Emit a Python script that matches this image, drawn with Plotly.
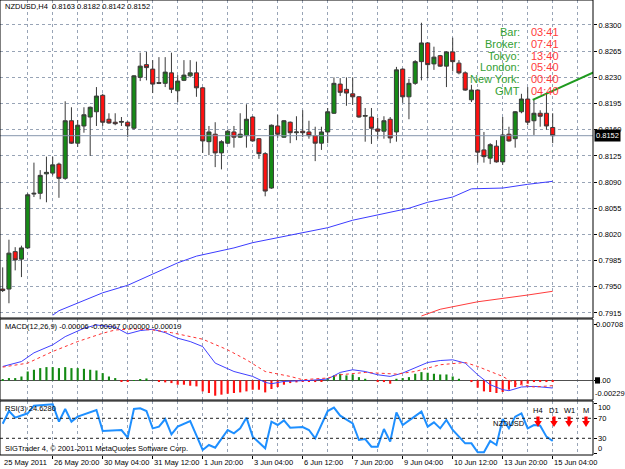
import plotly.graph_objects as go

# ---------------- data ----------------
bars = list(range(89))
open_ = [0.7947, 0.7947, 0.7997, 0.7987, 0.8002, 0.8074, 0.8075, 0.8101, 0.8102, 0.8114,
         0.8095, 0.8172, 0.8142, 0.8165, 0.8177, 0.8184, 0.8206, 0.8174, 0.8170, 0.8170,
         0.8170, 0.8162, 0.8230, 0.8247, 0.8241, 0.8223, 0.8222, 0.8236, 0.8212, 0.8226,
         0.8232, 0.8236, 0.8216, 0.8144, 0.8154, 0.8129, 0.8142, 0.8157, 0.8150, 0.8152,
         0.8177, 0.8148, 0.8128, 0.8082, 0.8165, 0.8150, 0.8170, 0.8156, 0.8158, 0.8157,
         0.8152, 0.8142, 0.8157, 0.8182, 0.8221, 0.8214, 0.8208, 0.8204, 0.8178, 0.8177,
         0.8161, 0.8158, 0.8174, 0.8157, 0.8241, 0.8204, 0.8222, 0.8251, 0.8276, 0.8248,
         0.8259, 0.8245, 0.8264, 0.8249, 0.8236, 0.8200, 0.8213, 0.8133, 0.8122, 0.8138,
         0.8117, 0.8154, 0.8148, 0.8184, 0.8201, 0.8172, 0.8182, 0.8182, 0.8163]
high = [0.7976, 0.8013, 0.8003, 0.8005, 0.8075, 0.8116, 0.8106, 0.8124, 0.8124, 0.8116,
        0.8198, 0.8190, 0.8173, 0.8190, 0.8191, 0.8217, 0.8208, 0.8182, 0.8182, 0.8177,
        0.8171, 0.8233, 0.8263, 0.8264, 0.8253, 0.8257, 0.8257, 0.8263, 0.8233, 0.8253,
        0.8253, 0.8251, 0.8217, 0.8165, 0.8170, 0.8146, 0.8160, 0.8165, 0.8182, 0.8194,
        0.8178, 0.8149, 0.8130, 0.8167, 0.8180, 0.8173, 0.8171, 0.8178, 0.8186, 0.8172,
        0.8164, 0.8164, 0.8189, 0.8230, 0.8229, 0.8230, 0.8230, 0.8205, 0.8189, 0.8189,
        0.8176, 0.8178, 0.8177, 0.8244, 0.8242, 0.8228, 0.8253, 0.8303, 0.8277, 0.8271,
        0.8260, 0.8265, 0.8283, 0.8253, 0.8238, 0.8220, 0.8214, 0.8157, 0.8142, 0.8146,
        0.8177, 0.8164, 0.8185, 0.8208, 0.8217, 0.8201, 0.8186, 0.8208, 0.8182]
low = [0.7943, 0.7928, 0.7972, 0.7963, 0.8001, 0.8070, 0.8067, 0.8063, 0.8099, 0.8069,
       0.8093, 0.8141, 0.8137, 0.8156, 0.8125, 0.8165, 0.8165, 0.8168, 0.8166, 0.8165,
       0.8150, 0.8160, 0.8225, 0.8226, 0.8209, 0.8221, 0.8217, 0.8209, 0.8197, 0.8225,
       0.8230, 0.8204, 0.8129, 0.8126, 0.8110, 0.8107, 0.8141, 0.8136, 0.8149, 0.8136,
       0.8144, 0.8121, 0.8071, 0.8081, 0.8149, 0.8149, 0.8142, 0.8146, 0.8150, 0.8148,
       0.8118, 0.8133, 0.8142, 0.8181, 0.8205, 0.8192, 0.8193, 0.8176, 0.8144, 0.8141,
       0.8148, 0.8148, 0.8142, 0.8144, 0.8196, 0.8174, 0.8220, 0.8226, 0.8229, 0.8240,
       0.8244, 0.8217, 0.8238, 0.8234, 0.8212, 0.8197, 0.8116, 0.8116, 0.8114, 0.8116,
       0.8113, 0.8144, 0.8136, 0.8182, 0.8166, 0.8153, 0.8164, 0.8160, 0.8142]
close = [0.7945, 0.7995, 0.7986, 0.8002, 0.8073, 0.8075, 0.8099, 0.8103, 0.8113, 0.8095,
         0.8172, 0.8142, 0.8166, 0.8180, 0.8190, 0.8205, 0.8170, 0.8169, 0.8168, 0.8171,
         0.8165, 0.8232, 0.8245, 0.8243, 0.8221, 0.8222, 0.8237, 0.8214, 0.8225, 0.8233,
         0.8236, 0.8216, 0.8145, 0.8157, 0.8129, 0.8144, 0.8158, 0.8150, 0.8154, 0.8174,
         0.8145, 0.8128, 0.8078, 0.8166, 0.8154, 0.8172, 0.8156, 0.8157, 0.8156, 0.8152,
         0.8142, 0.8157, 0.8184, 0.8222, 0.8210, 0.8209, 0.8204, 0.8177, 0.8179, 0.8162,
         0.8158, 0.8172, 0.8149, 0.8240, 0.8204, 0.8222, 0.8251, 0.8276, 0.8247, 0.8257,
         0.8245, 0.8264, 0.8251, 0.8236, 0.8213, 0.8213, 0.8130, 0.8124, 0.8140, 0.8117,
         0.8153, 0.8145, 0.8184, 0.8201, 0.8170, 0.8182, 0.8178, 0.8165, 0.8152]

ma_blue_bars = [8, 9, 16, 20, 24, 28, 31, 37, 40, 45, 48, 52, 56, 60, 65, 68, 72, 75, 80, 84, 88]
ma_blue_vals = [0.7912, 0.7918, 0.7942, 0.7952, 0.7967, 0.7982, 0.7991, 0.8002, 0.8009, 0.8017,
                0.8022, 0.8029, 0.8039, 0.8046, 0.8055, 0.8063, 0.8070, 0.8081, 0.8082, 0.8087, 0.8091]
ma_red_bars = [67, 70, 76, 80, 84, 88]
ma_red_vals = [0.7911, 0.7920, 0.7930, 0.7934, 0.7939, 0.7944]

trend_bars = [84.8, 96.0]
trend_vals = [0.8200, 0.8242]

macd_bars = [0, 3, 5, 8, 10, 13, 15, 18, 20, 22, 24, 26, 28, 30, 32, 34, 37, 40, 42, 43, 45, 48, 49,
             52, 54, 56, 58, 60, 62, 64, 66, 68, 70, 72, 74, 76, 78, 80, 81, 83, 85, 87, 88]
macd_vals = [0.00178, 0.00241, 0.00352, 0.00454, 0.00559, 0.00666, 0.00708, 0.00679, 0.00594, 0.00636,
             0.00653, 0.00610, 0.00539, 0.00496, 0.00432, 0.00221, 0.00114, 0.00051, -0.00025, -0.00042,
             -0.00013, -0.00004, 0.0, 0.00018, 0.00102, 0.00136, 0.00114, 0.00072, 0.00051, 0.00094,
             0.00158, 0.00229, 0.00254, 0.00263, 0.00221, 0.00072, -0.00055, -0.00118, -0.00131, -0.00084,
             -0.00076, -0.00084, -0.00097]
signal_bars = [0, 4, 8, 12, 16, 18, 21, 24, 27, 32, 36, 39, 42, 46, 48, 52, 54, 58, 63, 66, 70, 74,
               76, 80, 82, 85, 88]
signal_vals = [0.00170, 0.00221, 0.00369, 0.00496, 0.00602, 0.00644, 0.00657, 0.00644, 0.00610, 0.00526,
               0.00390, 0.00263, 0.00114, 0.00051, 0.00009, 0.00031, 0.00072, 0.00102, 0.00081, 0.00114,
               0.00200, 0.00229, 0.00178, 0.00051, -0.00042, -0.00084, -0.00067]
hist_vals = [0.0001, 0.0003, 0.0003, 0.0005, 0.00114, 0.00136, 0.00157, 0.0017, 0.0017, 0.00157,
             0.0017, 0.00157, 0.00157, 0.00148, 0.00136, 0.00127, 0.00093, 0.0005, 0.0003, -0.0001,
             -0.00017, 0.00005, 0.00017, 0.00025, 0.0, -0.00017, -0.00025, -0.00034, -0.00055, -0.00055,
             -0.00068, -0.00076, -0.0014, -0.00161, -0.00195, -0.00182, -0.0017, -0.00161, -0.00153, -0.0014,
             -0.00119, -0.00119, -0.00153, -0.0011, -0.00085, -0.00055, -0.00034, -0.00025, -0.00017, -0.00017,
             -0.00021, -0.0001, 0.0003, 0.00064, 0.00085, 0.00064, 0.00076, 0.00042, 0.00021, 0.0,
             -0.00021, -0.00021, -0.00042, 0.00021, 0.0003, 0.00042, 0.00085, 0.00106, 0.00098, 0.00085,
             0.00076, 0.00076, 0.0005, 0.00021, 0.0, -0.00021, -0.00093, -0.0014, -0.00148, -0.00161,
             -0.00148, -0.00119, -0.00085, -0.0005, -0.00042, -0.00021, -0.00021, -0.00021, -0.00021]

rsi_bars = [0, 1, 2, 4, 5, 8, 9, 10, 11, 12, 15, 16, 19, 20, 21, 22, 23, 24, 25, 26, 27, 28, 30, 32,
            33, 34, 36, 37, 38, 39, 40, 42, 43, 44, 45, 46, 48, 49, 50, 52, 53, 54, 56, 57, 58, 59,
            60, 61, 62, 63, 64, 67, 68, 69, 70, 71, 72, 74, 75, 76, 77, 78, 79, 80, 81, 82, 83, 84,
            85, 86, 87, 88]
rsi_vals = [59.0, 84.6, 71.3, 80.0, 95.3, 97.9, 63.3, 88.6, 63.3, 73.3, 86.6, 44.6, 46.6, 31.3, 88.6,
            89.9, 84.6, 49.9, 53.3, 68.6, 37.9, 53.3, 64.6, 6.6, 16.6, 11.3, 46.6, 39.9, 49.9, 71.3,
            33.3, 9.9, 63.3, 56.6, 65.9, 51.3, 52.5, 46.6, 29.9, 84.6, 91.3, 75.3, 59.9, 26.6, 28.6,
            13.3, 13.3, 48.6, 23.3, 81.9, 56.6, 83.3, 53.3, 61.9, 49.9, 66.6, 46.6, 19.9, 19.9, 1.9,
            1.9, 24.6, 16.6, 68.6, 49.9, 73.3, 79.9, 49.9, 56.6, 55.3, 33.3, 24.628]

price_ticks = [0.7915, 0.7950, 0.7985, 0.8020, 0.8055, 0.8090, 0.8125, 0.8160, 0.8195, 0.8230, 0.8265, 0.8300]
date_label_bars = [0, 8, 16, 24, 32, 40, 48, 56, 64, 72, 80, 88]
date_labels = ["25 May 2011", "26 May 20:00", "30 May 04:00", "31 May 12:00", "1 Jun 20:00",
               "3 Jun 04:00", "6 Jun 12:00", "7 Jun 20:00", "9 Jun 04:00", "10 Jun 12:00",
               "13 Jun 20:00", "15 Jun 04:00"]
grid_bars = list(range(4, 95, 4))

clock_names = ["Bar:", "Broker:", "Tokyo:", "London:", "New York:", "GMT"]
clock_times = ["03:41", "07:41", "13:40", "05:40", "00:40", "04:40"]
tf_names = ["H4", "D1", "W1", "M"]

# ---------------- geometry / style ----------------
W, H = 625, 469
ML, MR, MT, MB = 0, 32, 0, 14
PW, PH = W - ML - MR, H - MT - MB
FONT = "Liberation Sans, Arial, sans-serif"
FS = 7.5
GRID = "#98a4b6"


def px(x):
    return x / PW


def py(y):
    return 1 - y / PH


dom_main = [py(318), 1.0]
dom_macd = [py(400), py(319)]
dom_rsi = [0.0, py(401)]

x_range = [-0.432, 94.45]

fig = go.Figure()

fig.add_trace(go.Candlestick(
    x=bars, open=open_, high=high, low=low, close=close,
    increasing=dict(fillcolor="#168a16", line=dict(color="#3a3a3a", width=1)),
    decreasing=dict(fillcolor="#ff1010", line=dict(color="#3a3a3a", width=1)),
    whiskerwidth=0, xaxis="x", yaxis="y", showlegend=False, hoverinfo="skip"))
fig.add_trace(go.Scatter(x=ma_blue_bars, y=ma_blue_vals, mode="lines",
                         line=dict(color="#3c3cff", width=1), xaxis="x", yaxis="y", showlegend=False))
fig.add_trace(go.Scatter(x=ma_red_bars, y=ma_red_vals, mode="lines",
                         line=dict(color="#ff3c3c", width=1), xaxis="x", yaxis="y", showlegend=False))
fig.add_trace(go.Scatter(x=trend_bars, y=trend_vals, mode="lines",
                         line=dict(color="#1f9a1f", width=2), xaxis="x", yaxis="y", showlegend=False))

hist_colors = ["#138a13" if v >= 0 else "#ff1010" for v in hist_vals]
fig.add_trace(go.Bar(x=bars, y=hist_vals, width=0.34, marker=dict(color=hist_colors, line=dict(width=0)),
                     xaxis="x2", yaxis="y2", showlegend=False))
fig.add_trace(go.Scatter(x=macd_bars, y=macd_vals, mode="lines",
                         line=dict(color="#4040ff", width=1), xaxis="x2", yaxis="y2", showlegend=False))
fig.add_trace(go.Scatter(x=signal_bars, y=signal_vals, mode="lines",
                         line=dict(color="#ff3030", width=1, dash="dot"), xaxis="x2", yaxis="y2",
                         showlegend=False))

fig.add_trace(go.Scatter(x=rsi_bars, y=rsi_vals, mode="lines",
                         line=dict(color="#1e8fff", width=2), xaxis="x3", yaxis="y3", showlegend=False))

xcommon = dict(range=x_range, tickvals=grid_bars, showticklabels=False, ticks="",
               showgrid=True, gridcolor=GRID, griddash="3px,3px", gridwidth=1,
               zeroline=False, showline=False, fixedrange=True)
x3 = dict(range=x_range, tickvals=date_label_bars[1:], showticklabels=False, ticks="outside",
          ticklen=3, tickcolor="black", showgrid=True, gridcolor=GRID, griddash="3px,3px",
          minor=dict(tickvals=[b for b in grid_bars if b not in date_label_bars], showgrid=True,
                     gridcolor=GRID, griddash="3px,3px", ticks=""),
          zeroline=False, showline=False, fixedrange=True)

fig.update_layout(
    width=W, height=H, autosize=False,
    margin=dict(l=ML, r=MR, t=MT, b=MB, pad=0),
    paper_bgcolor="white", plot_bgcolor="white",
    hovermode=False, showlegend=False, boxgap=0.35, boxgroupgap=0,
    font=dict(family=FONT, size=FS, color="black"),
    xaxis=dict(anchor="y", rangeslider=dict(visible=False), **xcommon),
    xaxis2=dict(anchor="y2", matches="x", **xcommon),
    xaxis3=dict(anchor="y3", matches="x", **x3),
    yaxis=dict(domain=dom_main, range=[0.79083, 0.83334], side="right",
               tickvals=price_ticks, ticktext=[f"{v:.4f}" for v in price_ticks],
               ticks="outside", ticklen=3, tickcolor="black", tickfont=dict(size=FS, family=FONT),
               showgrid=True, gridcolor=GRID, griddash="3px,3px", zeroline=False, fixedrange=True),
    yaxis2=dict(domain=dom_macd, range=[-0.00250, 0.00784], side="right",
                tickvals=[0.00708, 0.0], showticklabels=False, ticks="outside", ticklen=3,
                tickcolor="black", showgrid=False, zeroline=True, zerolinecolor="#505050",
                zerolinewidth=1, fixedrange=True),
    yaxis3=dict(domain=dom_rsi, range=[-3.4, 104.6], side="right",
                tickvals=[0, 30, 70, 100], showticklabels=False, ticks="outside", ticklen=3,
                tickcolor="black", showgrid=False, zeroline=False, fixedrange=True),
)

shapes = []
# RSI levels 70/30
for lv in (30, 70):
    shapes.append(dict(type="line", xref="paper", x0=0, x1=1, yref="y3", y0=lv, y1=lv,
                       line=dict(color="#202020", width=1, dash="3px,3px")))
# current price line
shapes.append(dict(type="line", xref="paper", x0=0, x1=1, yref="y", y0=close[-1], y1=close[-1],
                   line=dict(color="#8797ad", width=1)))
# panel frames
for d in (dom_main, dom_macd, dom_rsi):
    shapes.append(dict(type="rect", xref="paper", yref="paper", x0=0, x1=1, y0=d[0], y1=d[1],
                       line=dict(color="black", width=1), fillcolor="rgba(0,0,0,0)"))
# black marker over the MACD zero label
shapes.append(dict(type="rect", xref="paper", yref="y2", x0=px(595), x1=px(600),
                   y0=-0.0004, y1=0.0004, line=dict(width=0), fillcolor="black"))
# red down arrows of the signal block
for xc in [538, 554, 569, 586]:
    pts = [(xc - 1.6, 416.5), (xc + 1.6, 416.5), (xc + 1.6, 421), (xc + 3.8, 421), (xc, 427),
           (xc - 3.8, 421), (xc - 1.6, 421)]
    path = "M " + " L ".join(f"{px(a):.5f},{py(b):.5f}" for a, b in pts) + " Z"
    shapes.append(dict(type="path", xref="paper", yref="paper", path=path,
                       fillcolor="#ff0000", line=dict(width=0)))
fig.update_layout(shapes=shapes)

ann = []


def text(x, y, s, color="black", size=FS, xanchor="left", yanchor="middle", **kw):
    ann.append(dict(x=x, y=y, text=s, showarrow=False, xanchor=xanchor, yanchor=yanchor,
                    font=dict(family=FONT, size=size, color=color), **kw))


# header texts
text(px(3), py(7), f"NZDUSD,H4  {open_[-1]:.4f} {high[-1]:.4f} {low[-1]:.4f} {close[-1]:.4f}",
     xref="paper", yref="paper")
text(px(3), py(326), "MACD(12,26,9) -0.00006 -0.00067 0.00000 -0.00019", xref="paper", yref="paper")
text(px(3), py(408), f"RSI(3) {rsi_vals[-1]:.4f}", xref="paper", yref="paper")
text(px(3), py(448), "SIGTrader 4, © 2001-2011 MetaQuotes Software Corp.", xref="paper", yref="paper")

# clock block
for i, (n, t) in enumerate(zip(clock_names, clock_times)):
    yy = py(32 + i * 11.8)
    text(px(522), yy, n, color="#33a033", size=11, xanchor="right", xref="paper", yref="paper")
    text(px(529), yy, t, color="#ff3b3b", size=11, xref="paper", yref="paper")

# current price marker
ann.append(dict(x=1, y=close[-1], xref="paper", yref="y", text=f"{close[-1]:.4f}", showarrow=False,
                xanchor="left", yanchor="middle", xshift=1, bgcolor="black", borderpad=1,
                font=dict(family=FONT, size=FS, color="white")))

# MACD scale labels
text(1, 0.00708, "0.00708", xref="paper", yref="y2", xshift=1)
text(1, 0.0, "0.00", xref="paper", yref="y2", xshift=1)
text(1, 0, "-0.00229", xref="paper", yref="y2 domain", yanchor="bottom", xshift=0)

# RSI scale labels
text(1, 1, "100", xref="paper", yref="y3 domain", yanchor="top", xshift=3)
text(1, 70, "70", xref="paper", yref="y3", xshift=3)
text(1, 30, "30", xref="paper", yref="y3", xshift=3)
text(1, 0, "0", xref="paper", yref="y3 domain", yanchor="bottom", xshift=3)

# signal block in RSI window
text(px(527), py(423), "NZDUSD", xanchor="right", xref="paper", yref="paper")
for nm, xc in zip(tf_names, [538, 554, 569, 586]):
    text(px(xc), py(410), nm, xanchor="center", xref="paper", yref="paper")

# date labels
for b, s in zip(date_label_bars, date_labels):
    ann.append(dict(x=b, y=0, xref="x3", yref="paper", text=s, showarrow=False, xanchor="left",
                    yanchor="top", xshift=-1, yshift=-1, font=dict(family=FONT, size=FS, color="black")))

fig.update_layout(annotations=ann)
fig.write_html("out.html")
